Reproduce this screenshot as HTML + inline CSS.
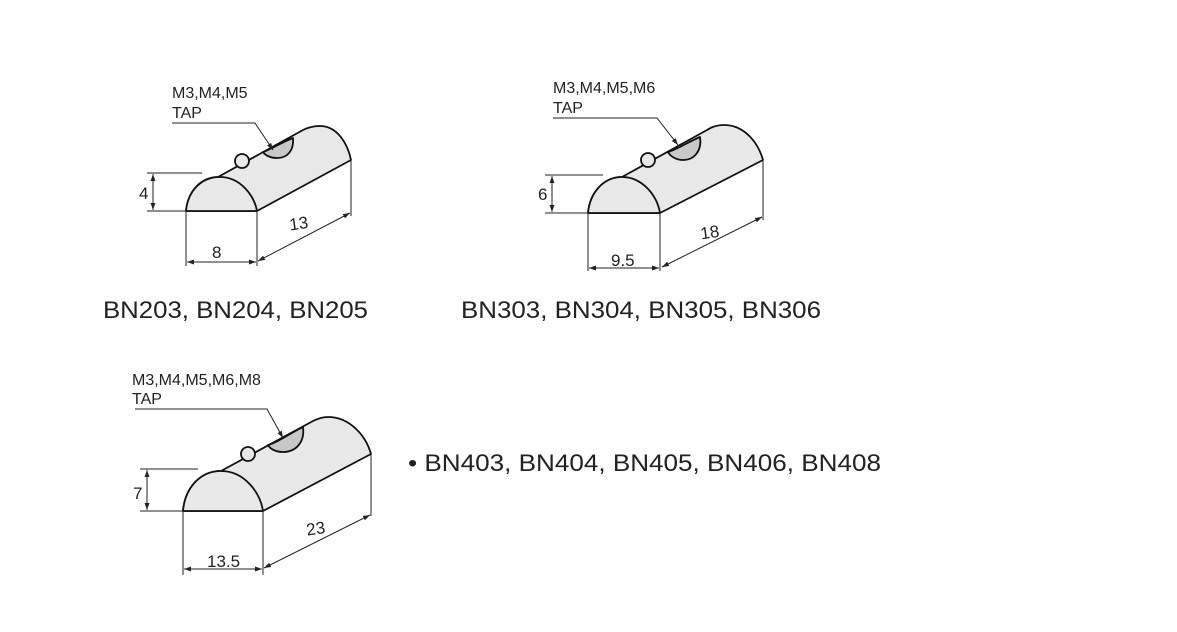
<!DOCTYPE html>
<html><head><meta charset="utf-8"><style>
html,body{margin:0;padding:0;background:#fff;width:1177px;height:632px;overflow:hidden}
svg{display:block}
text{font-family:"Liberation Sans",sans-serif;fill:#222}
</style></head><body>
<svg width="1177" height="632" viewBox="0 0 1177 632" xmlns="http://www.w3.org/2000/svg">
<defs>
<marker id="a" viewBox="0 0 10 10" refX="10" refY="5" markerWidth="7" markerHeight="7" orient="auto-start-reverse"><path d="M0,1.5 L10,5 L0,8.5 z" fill="#222"/></marker>
</defs>
<g stroke="#111" stroke-width="1.8" fill="#e8e8e8" stroke-linejoin="round">
<path d="M186,211 C188,190 202,177 218,177 L303,130 C309,127 315,126 320,126 C338,126 348,145 351,160 L257,211 Z"/>
<path d="M186,211 C188,190 202,177 220,177 C240,177 254,195 257,211 Z"/>
<path d="M263,152 C270,150 282,142 293,138 C294,150 288,158 277,158 C270,158 265,155 263,152 Z" fill="#c8c8c8"/>
<circle cx="242" cy="161" r="7"/>
<path d="M588,213 C590,192 604,177 622,177 L707,130 C713,126 719,125 724,125 C744,125 758,142 763,160 L660,213 Z"/>
<path d="M588,213 C590,192 604,177 622,177 C642,177 657,195 660,213 Z"/>
<path d="M668,152 C676,150 688,142 700,137 C702,150 695,160 683,160 C676,160 670,156 668,152 Z" fill="#c8c8c8"/>
<circle cx="648" cy="160" r="7"/>
<path d="M183,511 C185,488 200,471 221,471 L313,421 C319,418 324,417 328,417 C350,417 366,436 371,454 L263,511 Z"/>
<path d="M183,511 C185,488 200,471 221,471 C244,471 260,492 263,511 Z"/>
<path d="M268,445 C277,443 290,433 303,427 C305,442 296,452 283,452 C276,452 270,449 268,445 Z" fill="#c8c8c8"/>
<circle cx="248" cy="454" r="7"/>
</g>
<g stroke="#222" stroke-width="1" fill="none">
<path d="M172,123 L255,123 L273,150" marker-end="url(#a)"/>
<path d="M553,118 L657,118 L678,145" marker-end="url(#a)"/>
<path d="M135,409 L267,409 L283,438" marker-end="url(#a)"/>
<path d="M147,173 L202,173 M147,211 L186,211"/>
<path d="M153,174 L153,210" marker-start="url(#a)" marker-end="url(#a)"/>
<path d="M186,211 L186,266 M257,211 L257,266 M351,161 L351,216"/>
<path d="M187,262 L256,262" marker-start="url(#a)" marker-end="url(#a)"/>
<path d="M258,261 L350,213" marker-start="url(#a)" marker-end="url(#a)"/>
<path d="M545,175 L603,175 M545,213 L588,213"/>
<path d="M552,176 L552,212" marker-start="url(#a)" marker-end="url(#a)"/>
<path d="M588,213 L588,271 M660,213 L660,271 M763,161 L763,220"/>
<path d="M589,268 L659,268" marker-start="url(#a)" marker-end="url(#a)"/>
<path d="M662,267 L762,217" marker-start="url(#a)" marker-end="url(#a)"/>
<path d="M140,469 L198,469 M140,511 L183,511"/>
<path d="M147,470 L147,510" marker-start="url(#a)" marker-end="url(#a)"/>
<path d="M183,511 L183,575 M263,511 L263,575 M371,455 L371,516"/>
<path d="M184,569 L262,569" marker-start="url(#a)" marker-end="url(#a)"/>
<path d="M264,568 L370,515" marker-start="url(#a)" marker-end="url(#a)"/>
</g>
<g font-size="16">
<text x="172" y="98">M3,M4,M5</text><text x="172" y="118">TAP</text>
<text x="553" y="93">M3,M4,M5,M6</text><text x="553" y="113">TAP</text>
<text x="132" y="385">M3,M4,M5,M6,M8</text><text x="132" y="404">TAP</text>
</g>
<g font-size="17">
<text x="139" y="199">4</text><text x="212" y="258">8</text><text x="289" y="229" transform="rotate(-8 300 222)">13</text>
<text x="538" y="200">6</text><text x="611" y="266">9.5</text><text x="700" y="238" transform="rotate(-8 710 230)">18</text>
<text x="133" y="499">7</text><text x="207" y="567">13.5</text><text x="306" y="534" transform="rotate(-8 318 527)">23</text>
</g>
<g font-size="24">
<text x="103" y="318" textLength="265" lengthAdjust="spacingAndGlyphs">BN203, BN204, BN205</text>
<text x="461" y="318" textLength="360" lengthAdjust="spacingAndGlyphs">BN303, BN304, BN305, BN306</text>
<text x="408" y="471" textLength="473" lengthAdjust="spacingAndGlyphs">• BN403, BN404, BN405, BN406, BN408</text>
</g>
</svg>
</body></html>
